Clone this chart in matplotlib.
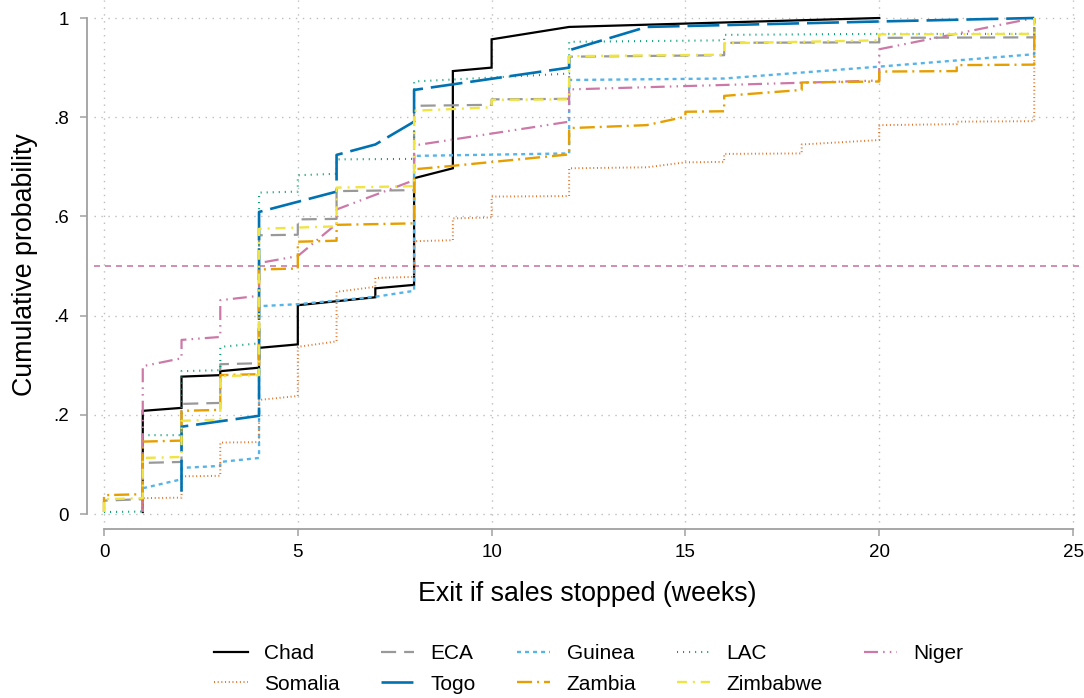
import matplotlib
matplotlib.use("Agg")
import matplotlib.pyplot as plt

plt.rcParams['font.family'] = ['Liberation Sans', 'DejaVu Sans']

# cumulative distribution points (x = weeks, y = cumulative share), sorted as in the data
chad_x = [1, 1, 2, 2, 3, 3, 4, 4, 5, 5, 7, 7, 8, 8, 9, 9, 10, 10, 12, 20]
chad_y = [0.004, 0.208, 0.214, 0.277, 0.280, 0.288, 0.295, 0.335, 0.342, 0.421,
          0.437, 0.455, 0.462, 0.677, 0.697, 0.893, 0.900, 0.957, 0.982, 1.0]

eca_x = [0, 0, 1, 1, 2, 2, 3, 3, 4, 4, 5, 5, 6, 6, 8, 8, 10, 10, 12, 12, 16, 16, 20, 20, 24, 24]
eca_y = [0.004, 0.027, 0.030, 0.103, 0.105, 0.222, 0.224, 0.302, 0.304, 0.562, 0.563, 0.594,
         0.595, 0.651, 0.653, 0.823, 0.825, 0.836, 0.837, 0.922, 0.925, 0.950, 0.951, 0.960,
         0.961, 1.0]

guinea_x = [1, 1, 2, 2, 3, 3, 4, 4, 5, 7, 8, 8, 12, 12, 16, 20, 24, 24]
guinea_y = [0.004, 0.052, 0.070, 0.093, 0.097, 0.105, 0.113, 0.419, 0.423, 0.438, 0.450,
            0.722, 0.727, 0.875, 0.878, 0.902, 0.927, 1.0]

lac_x = [0, 1, 1, 2, 2, 3, 3, 4, 4, 5, 5, 6, 6, 8, 8, 10, 12, 12, 16, 16, 20, 24, 24]
lac_y = [0.004, 0.005, 0.159, 0.159, 0.288, 0.290, 0.337, 0.344, 0.648, 0.650, 0.683,
         0.686, 0.715, 0.716, 0.872, 0.880, 0.888, 0.952, 0.955, 0.966, 0.968, 0.968, 1.0]

niger_x = [1, 1, 2, 2, 3, 3, 4, 4, 5, 6, 6, 8, 8, 12, 12, 20, 20, 24]
niger_y = [0.004, 0.298, 0.314, 0.351, 0.357, 0.431, 0.440, 0.506, 0.520, 0.585, 0.614,
           0.673, 0.743, 0.791, 0.856, 0.874, 0.937, 1.0]

somalia_x = [1, 1, 2, 2, 3, 3, 4, 4, 5, 5, 6, 6, 7, 7, 8, 8, 9, 9, 10, 10, 12, 12, 14, 15,
             16, 16, 18, 18, 20, 20, 22, 22, 24, 24]
somalia_y = [0.004, 0.032, 0.033, 0.076, 0.077, 0.144, 0.145, 0.230, 0.238, 0.337, 0.348,
             0.448, 0.458, 0.476, 0.478, 0.550, 0.552, 0.596, 0.598, 0.640, 0.641, 0.697,
             0.699, 0.709, 0.710, 0.726, 0.727, 0.745, 0.754, 0.784, 0.786, 0.791, 0.792, 1.0]

togo_x = [2, 2, 4, 4, 6, 6, 7, 8, 8, 12, 12, 14, 20, 24]
togo_y = [0.045, 0.176, 0.198, 0.609, 0.650, 0.724, 0.745, 0.791, 0.855, 0.900, 0.935,
          0.982, 0.993, 1.0]

zambia_x = [0, 0, 1, 1, 2, 2, 3, 3, 4, 4, 5, 5, 6, 6, 8, 8, 9, 12, 12, 14, 15, 15, 16, 16,
            18, 18, 20, 20, 22, 22, 24, 24]
zambia_y = [0.004, 0.038, 0.040, 0.146, 0.148, 0.208, 0.210, 0.280, 0.282, 0.493, 0.495,
            0.549, 0.551, 0.583, 0.586, 0.695, 0.702, 0.725, 0.778, 0.784, 0.801, 0.811,
            0.812, 0.843, 0.855, 0.870, 0.872, 0.892, 0.893, 0.905, 0.906, 1.0]

zimbabwe_x = [0, 0, 1, 1, 2, 2, 3, 3, 4, 4, 6, 6, 8, 8, 10, 10, 12, 12, 16, 16, 20, 20, 24, 24]
zimbabwe_y = [0.004, 0.030, 0.032, 0.113, 0.115, 0.188, 0.190, 0.278, 0.280, 0.575, 0.580,
              0.658, 0.661, 0.813, 0.820, 0.835, 0.836, 0.923, 0.926, 0.949, 0.955, 0.967,
              0.968, 1.0]

median_line = 0.5

fig = plt.figure(figsize=(10.84, 6.98), dpi=100)
ax = fig.add_axes([94 / 1084, 1 - 529 / 698, 986 / 1084, 529 / 698])

series = [
    ("Chad", chad_x, chad_y, "black", 1.6, "-"),
    ("ECA", eca_x, eca_y, "#999999", 1.6, (0, (6.8, 3.6))),
    ("Guinea", guinea_x, guinea_y, "#56B4E9", 1.7, (0, (1.7, 1.7))),
    ("LAC", lac_x, lac_y, "#009E73", 1.5, (0, (0.5, 2.4))),
    ("Niger", niger_x, niger_y, "#CC79A7", 1.6, (0, (6.3, 2.3, 0.7, 2.3, 0.7, 2.3))),
    ("Somalia", somalia_x, somalia_y, "#DE6E1F", 1.4, (0, (0.5, 1.4))),
    ("Togo", togo_x, togo_y, "#0072B2", 1.9, (0, (12.1, 3.0))),
    ("Zambia", zambia_x, zambia_y, "#E69F00", 1.7, (0, (6.4, 2.1, 0.85, 2.1))),
    ("Zimbabwe", zimbabwe_x, zimbabwe_y, "#F0E442", 1.7, (0, (4.2, 2.5, 0.85, 2.5))),
]

lines = {}
for name, xs, ys, col, lw, ls in series:
    ln, = ax.plot(xs, ys, color=col, lw=lw, linestyle=ls, label=name,
                  dash_capstyle='butt', solid_joinstyle='miter')
    lines[name] = ln

ax.axhline(median_line, color="#CC79A7", lw=1.2, linestyle=(0, (3.6, 3.0)), zorder=1)

ax.set_xlim(-0.258, 25.18)
ax.set_ylim(-0.0302, 1.0363)
ax.set_xticks([0, 5, 10, 15, 20, 25])
ax.set_yticks([0, 0.2, 0.4, 0.6, 0.8, 1.0])
ax.set_yticklabels(["0", ".2", ".4", ".6", ".8", "1"])

ax.grid(True, color="#bdbdbd", linestyle=(0, (1, 4)), lw=1.0)
ax.set_axisbelow(True)

for s in ["top", "right"]:
    ax.spines[s].set_visible(False)
ax.spines["left"].set_position(("outward", 5))
ax.spines["left"].set_bounds(0, 1)
ax.spines["bottom"].set_bounds(0, 25)
for s in ["left", "bottom"]:
    ax.spines[s].set_color("#a0a0a0")
    ax.spines[s].set_linewidth(1.3)

ax.tick_params(axis="both", length=5, width=1.1, color="#a0a0a0", labelsize=13.5)
ax.tick_params(axis="y", pad=8)
ax.tick_params(axis="x", pad=6)

ax.set_xlabel("Exit if sales stopped (weeks)", fontsize=19.3, labelpad=14)
ax.set_ylabel("Cumulative probability", fontsize=19.3, labelpad=11)

order = ["Chad", "Somalia", "ECA", "Togo", "Guinea", "Zambia", "LAC", "Zimbabwe", "Niger"]
fig.legend([lines[n] for n in order], order, loc="center",
           bbox_to_anchor=(589 / 1084, 1 - 669 / 698), ncol=5, frameon=False,
           fontsize=15, handlelength=1.6, handletextpad=0.8, columnspacing=1.95,
           labelspacing=0.55)

fig.savefig("out.png", dpi=100)
